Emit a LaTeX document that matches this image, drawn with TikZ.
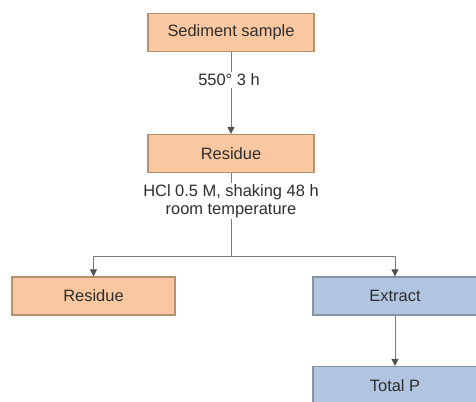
\documentclass[tikz,border=0pt]{standalone}
\usepackage{fontspec}
\setmainfont{Liberation Sans}
\usetikzlibrary{arrows.meta}
\definecolor{orfill}{HTML}{F9C7A0}
\definecolor{ordraw}{HTML}{B8906E}
\definecolor{blfill}{HTML}{B1C4E0}
\definecolor{bldraw}{HTML}{8794A6}
\definecolor{linec}{HTML}{7A7A7A}
\definecolor{tipc}{HTML}{505050}
\definecolor{txt}{HTML}{2E2E2E}
\begin{document}
\begin{tikzpicture}[x=1bp,y=-1bp,
  every node/.style={font=\fontsize{16.5}{20}\selectfont, text=txt},
  obox/.style={draw=ordraw, fill=orfill, line width=1.3bp, minimum width=166bp, minimum height=38bp, inner sep=0pt},
  bbox/.style={draw=bldraw, fill=blfill, line width=1.3bp, minimum width=164bp, minimum height=38bp, inner sep=0pt},
  conn/.style={draw=linec, line width=1bp},
  arr/.style={conn, -{Triangle[length=7bp,width=7bp,fill=tipc,color=tipc]}},
  lbl/.style={fill=white, inner sep=1.5bp, align=center}
]
\useasboundingbox (0,0) rectangle (476,401);
\node[obox] (s) at (231,32.5) {Sediment sample};
\node[obox] (r1) at (231,153.5) {Residue};
\node[obox, minimum width=163bp] (r2) at (93.5,296) {Residue};
\node[bbox] (e) at (395,296) {Extract};
\node[bbox] (t) at (395,385.5) {Total P};
\coordinate (j) at (231,256);
\coordinate (jl) at (93.5,256);
\coordinate (jr) at (395,256);
\draw[arr] (s.south) -- (r1.north);
\node[lbl] (l1) at (229,80) {550° 3 h};
\draw[conn] (r1.south) -- (j);
\node[lbl, font=\fontsize{16.5}{18}\selectfont] (l2) at (231,201) {HCl 0.5 M, shaking 48 h\\room temperature};
\draw[conn] (jl) -- (jr);
\draw[arr] (jl) -- (r2.north);
\draw[arr] (jr) -- (e.north);
\draw[arr] (e.south) -- (t.north);
\end{tikzpicture}
\end{document}
